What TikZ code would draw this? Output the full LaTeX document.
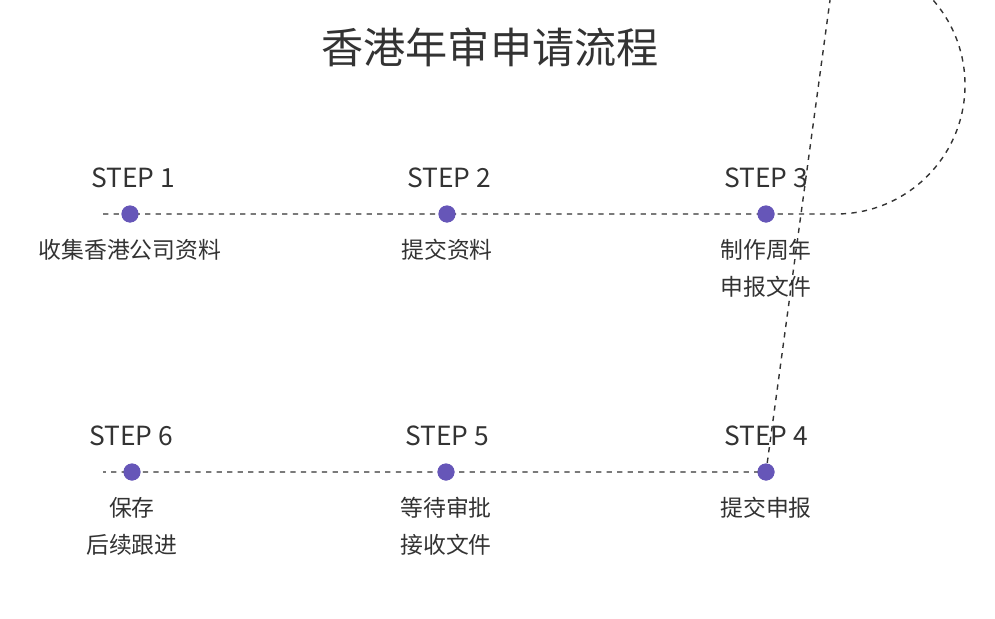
\documentclass[tikz,border=0pt]{standalone}
\usepackage{fontspec}
\setmainfont{Noto Sans CJK SC}
\usetikzlibrary{positioning}
\definecolor{dotc}{HTML}{6656B8}
\definecolor{txtc}{HTML}{333333}
\begin{document}
\begin{tikzpicture}[x=0.02cm, y=-0.02cm, text=txtc,
    stepdot/.style={circle, fill=dotc, minimum size=0.34cm, inner sep=0pt},
    steplabel/.style={font=\fontsize{15}{18}\selectfont},
    stepinfo/.style={font=\fontsize{13}{21}\selectfont, align=center}]

        \useasboundingbox (0,0) rectangle (995,619);
        \node[font=\fontsize{24}{28}\selectfont] (title) at (490,47) {香港年审申请流程};

        % 上排
        \coordinate (L1) at (103,214);
        \node[stepdot] (S1) at (130,214) {};
        \node[stepdot] (S2) at (447,214) {};
        \node[stepdot] (S3) at (766,214) {};
        % 下排
        \coordinate (L2) at (103,472);
        \node[stepdot] (S6) at (132,472) {};
        \node[stepdot] (S5) at (446,472) {};
        \node[stepdot] (S4) at (766,472) {};
        \coordinate (R1) at (836,214);

        % 虚线
        \draw[dashed, thick, txtc] (L1) -- (S1.center) -- (S2.center) -- (S3.center) -- (R1)
            arc[start angle=90, end angle=-90, radius=129] -- (S4.center) -- (S5.center) -- (S6.center) -- (L2);
        \foreach \n in {S1,S2,S3,S4,S5,S6}
            \node[stepdot] at (\n) {};

        % 标题
        \node[steplabel] at (133,178) {STEP 1};
        \node[steplabel] at (449,178) {STEP 2};
        \node[steplabel] at (766,178) {STEP 3};
        \node[steplabel] at (131,436) {STEP 6};
        \node[steplabel] at (447,436) {STEP 5};
        \node[steplabel] at (766,436) {STEP 4};

        % 说明
        \node[stepinfo, below=6pt of S1] {收集香港公司资料};
        \node[stepinfo, below=6pt of S2] {提交资料};
        \node[stepinfo, below=6pt of S3] {制作周年\\申报文件};
        \node[stepinfo, below=6pt of S6] {保存\\后续跟进};
        \node[stepinfo, below=6pt of S5] {等待审批\\接收文件};
        \node[stepinfo, below=6pt of S4] {提交申报};

    \end{tikzpicture}
\end{document}
